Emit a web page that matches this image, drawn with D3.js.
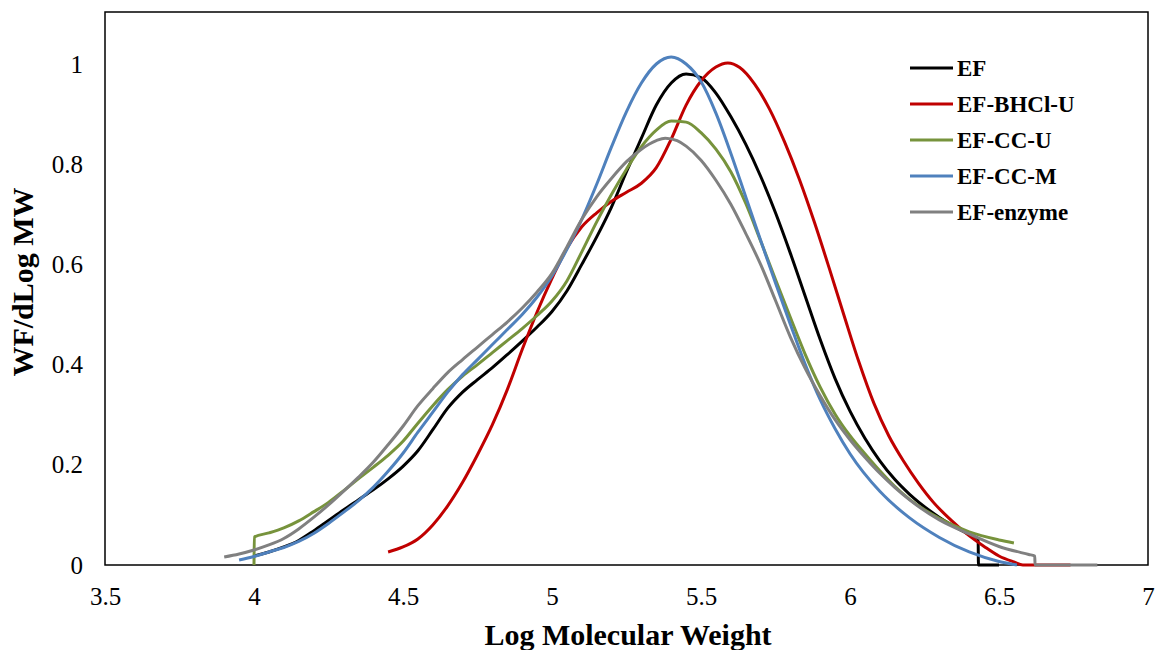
<!DOCTYPE html>
<html><head><meta charset="utf-8">
<script src="https://cdn.jsdelivr.net/npm/d3@7"></script>
<style>body{margin:0;background:#fff}svg{display:block}</style>
</head><body>
<svg id="c" width="1157" height="650"></svg>
<script>
const seriesNames = ["EF", "EF-BHCl-U", "EF-CC-U", "EF-CC-M", "EF-enzyme"];
const seriesColors = ["#000000", "#C00000", "#77933C", "#4F81BD", "#808080"];
const xTicks = [3.5, 4, 4.5, 5, 5.5, 6, 6.5, 7];
const yTicks = [0, 0.2, 0.4, 0.6, 0.8, 1];

const EF = [[4.0,0.018],[4.05,0.026],[4.1,0.036],[4.15,0.049],[4.2,0.068],[4.25,0.089],[4.3,0.11],[4.35,0.13],[4.4,0.15],[4.45,0.172],[4.5,0.197],[4.55,0.228],[4.6,0.27],[4.65,0.313],[4.7,0.345],[4.75,0.37],[4.8,0.394],[4.85,0.42],[4.9,0.447],[4.95,0.475],[5.0,0.506],[5.05,0.547],[5.1,0.6],[5.15,0.655],[5.2,0.715],[5.25,0.785],[5.3,0.852],[5.35,0.918],[5.4,0.962],[5.45,0.98],[5.5,0.973],[5.55,0.942],[5.6,0.895],[5.65,0.84],[5.7,0.776],[5.75,0.703],[5.8,0.622],[5.85,0.536],[5.9,0.45],[5.95,0.372],[6.0,0.307],[6.05,0.253],[6.1,0.208],[6.15,0.171],[6.2,0.141],[6.3,0.095],[6.4,0.061],[6.43,0.052],[6.431,0],[6.5,0]];
const EF_BHCl_U = [[4.45,0.026],[4.5,0.036],[4.55,0.052],[4.6,0.08],[4.65,0.118],[4.7,0.165],[4.75,0.22],[4.8,0.28],[4.85,0.35],[4.9,0.43],[4.95,0.505],[5.0,0.572],[5.05,0.632],[5.1,0.675],[5.15,0.703],[5.2,0.726],[5.25,0.744],[5.3,0.762],[5.35,0.793],[5.4,0.85],[5.45,0.918],[5.5,0.966],[5.55,0.994],[5.59,1.002],[5.63,0.993],[5.68,0.96],[5.73,0.91],[5.78,0.845],[5.83,0.77],[5.88,0.685],[5.93,0.593],[5.98,0.498],[6.03,0.405],[6.08,0.323],[6.13,0.258],[6.18,0.207],[6.23,0.163],[6.28,0.125],[6.34,0.089],[6.39,0.063],[6.45,0.037],[6.5,0.018],[6.55,0.006],[6.58,0],[6.74,0]];
const EF_CC_U = [[4.0,0],[4.001,0.056],[4.05,0.064],[4.1,0.074],[4.15,0.088],[4.2,0.106],[4.25,0.125],[4.3,0.148],[4.35,0.172],[4.4,0.195],[4.45,0.219],[4.5,0.247],[4.55,0.283],[4.6,0.318],[4.65,0.35],[4.7,0.377],[4.75,0.4],[4.8,0.424],[4.85,0.448],[4.9,0.472],[4.95,0.498],[5.0,0.527],[5.05,0.567],[5.1,0.625],[5.15,0.685],[5.2,0.74],[5.25,0.79],[5.3,0.835],[5.35,0.868],[5.4,0.886],[5.45,0.884],[5.5,0.863],[5.55,0.83],[5.6,0.785],[5.65,0.722],[5.7,0.647],[5.75,0.57],[5.8,0.494],[5.85,0.42],[5.9,0.355],[5.95,0.301],[6.0,0.258],[6.05,0.222],[6.1,0.188],[6.15,0.157],[6.2,0.131],[6.3,0.093],[6.4,0.066],[6.5,0.05],[6.55,0.044]];
const EF_CC_M = [[3.95,0.01],[4.0,0.017],[4.05,0.026],[4.1,0.035],[4.15,0.047],[4.2,0.063],[4.25,0.083],[4.3,0.105],[4.35,0.128],[4.4,0.155],[4.45,0.187],[4.5,0.223],[4.55,0.265],[4.6,0.305],[4.65,0.345],[4.7,0.38],[4.75,0.41],[4.8,0.44],[4.85,0.47],[4.9,0.5],[4.95,0.535],[5.0,0.577],[5.05,0.63],[5.1,0.69],[5.15,0.76],[5.2,0.835],[5.25,0.905],[5.3,0.962],[5.35,1.0],[5.4,1.014],[5.45,1.0],[5.5,0.965],[5.55,0.902],[5.6,0.822],[5.65,0.735],[5.7,0.648],[5.75,0.563],[5.8,0.48],[5.85,0.4],[5.9,0.33],[5.95,0.272],[6.0,0.222],[6.1,0.147],[6.2,0.094],[6.3,0.055],[6.4,0.026],[6.5,0.007],[6.56,0]];
const EF_enzyme = [[3.9,0.016],[3.95,0.022],[4.0,0.03],[4.05,0.04],[4.1,0.053],[4.15,0.072],[4.2,0.095],[4.25,0.12],[4.3,0.147],[4.35,0.175],[4.4,0.205],[4.45,0.24],[4.5,0.277],[4.55,0.318],[4.6,0.352],[4.65,0.384],[4.7,0.41],[4.75,0.435],[4.8,0.46],[4.85,0.485],[4.9,0.513],[4.95,0.545],[5.0,0.582],[5.05,0.635],[5.1,0.69],[5.15,0.735],[5.2,0.772],[5.25,0.805],[5.3,0.83],[5.35,0.847],[5.38,0.852],[5.42,0.847],[5.45,0.836],[5.5,0.808],[5.55,0.768],[5.6,0.72],[5.65,0.662],[5.7,0.6],[5.75,0.528],[5.8,0.455],[5.85,0.392],[5.9,0.338],[5.95,0.29],[6.0,0.25],[6.05,0.215],[6.1,0.183],[6.15,0.155],[6.2,0.13],[6.3,0.09],[6.4,0.062],[6.5,0.037],[6.6,0.021],[6.62,0.018],[6.621,0],[6.83,0]];
const seriesData = [EF, EF_BHCl_U, EF_CC_U, EF_CC_M, EF_enzyme];

const svg = d3.select("#c");
const L = 105, R = 1148, T = 12, B = 565;
const x = d3.scaleLinear().domain([3.5, 7]).range([L, R]);
const y = d3.scaleLinear().domain([0, 1.1]).range([B, B - 1.1 * 501]);
const font = "'Liberation Serif','Times New Roman',serif";

svg.append("rect").attr("x", L).attr("y", T).attr("width", R - L).attr("height", B - T)
  .attr("fill", "none").attr("stroke", "#000").attr("stroke-width", 1.5);

const xAxis = svg.append("g").attr("transform", `translate(0,${B})`)
  .call(d3.axisBottom(x).tickValues(xTicks).tickSize(0).tickPadding(22).tickFormat(d3.format("")));
xAxis.select(".domain").remove();
xAxis.selectAll("text").attr("font-family", font).attr("font-size", 25).attr("fill", "#000");

const yAxis = svg.append("g").attr("transform", `translate(${L},0)`)
  .call(d3.axisLeft(y).tickValues(yTicks).tickSize(0).tickPadding(22).tickFormat(d3.format("")));
yAxis.select(".domain").remove();
yAxis.selectAll("text").attr("font-family", font).attr("font-size", 25).attr("fill", "#000");

const line = d3.line().x(d => x(d[0])).y(d => y(d[1])).curve(d3.curveMonotoneX);
seriesData.forEach((s, i) => {
  svg.append("path").datum(s).attr("d", line).attr("fill", "none")
    .attr("stroke", seriesColors[i]).attr("stroke-width", 3).attr("stroke-linejoin", "round");
});

const lg = svg.append("g");
seriesNames.forEach((n, i) => {
  const yy = 68 + i * 36;
  lg.append("line").attr("x1", 910).attr("x2", 953).attr("y1", yy).attr("y2", yy)
    .attr("stroke", seriesColors[i]).attr("stroke-width", 3);
  lg.append("text").attr("x", 957).attr("y", yy).attr("dy", "0.35em").text(n)
    .attr("font-family", font).attr("font-weight", "bold").attr("font-size", 23).attr("fill", "#000");
});

svg.append("text").attr("x", 628).attr("y", 645).attr("text-anchor", "middle")
  .attr("font-family", font).attr("font-weight", "bold").attr("font-size", 30).text("Log Molecular Weight");
svg.append("text").attr("transform", `translate(33,282) rotate(-90)`).attr("text-anchor", "middle")
  .attr("font-family", font).attr("font-weight", "bold").attr("font-size", 30).text("WF/dLog MW");
</script>
</body></html>
